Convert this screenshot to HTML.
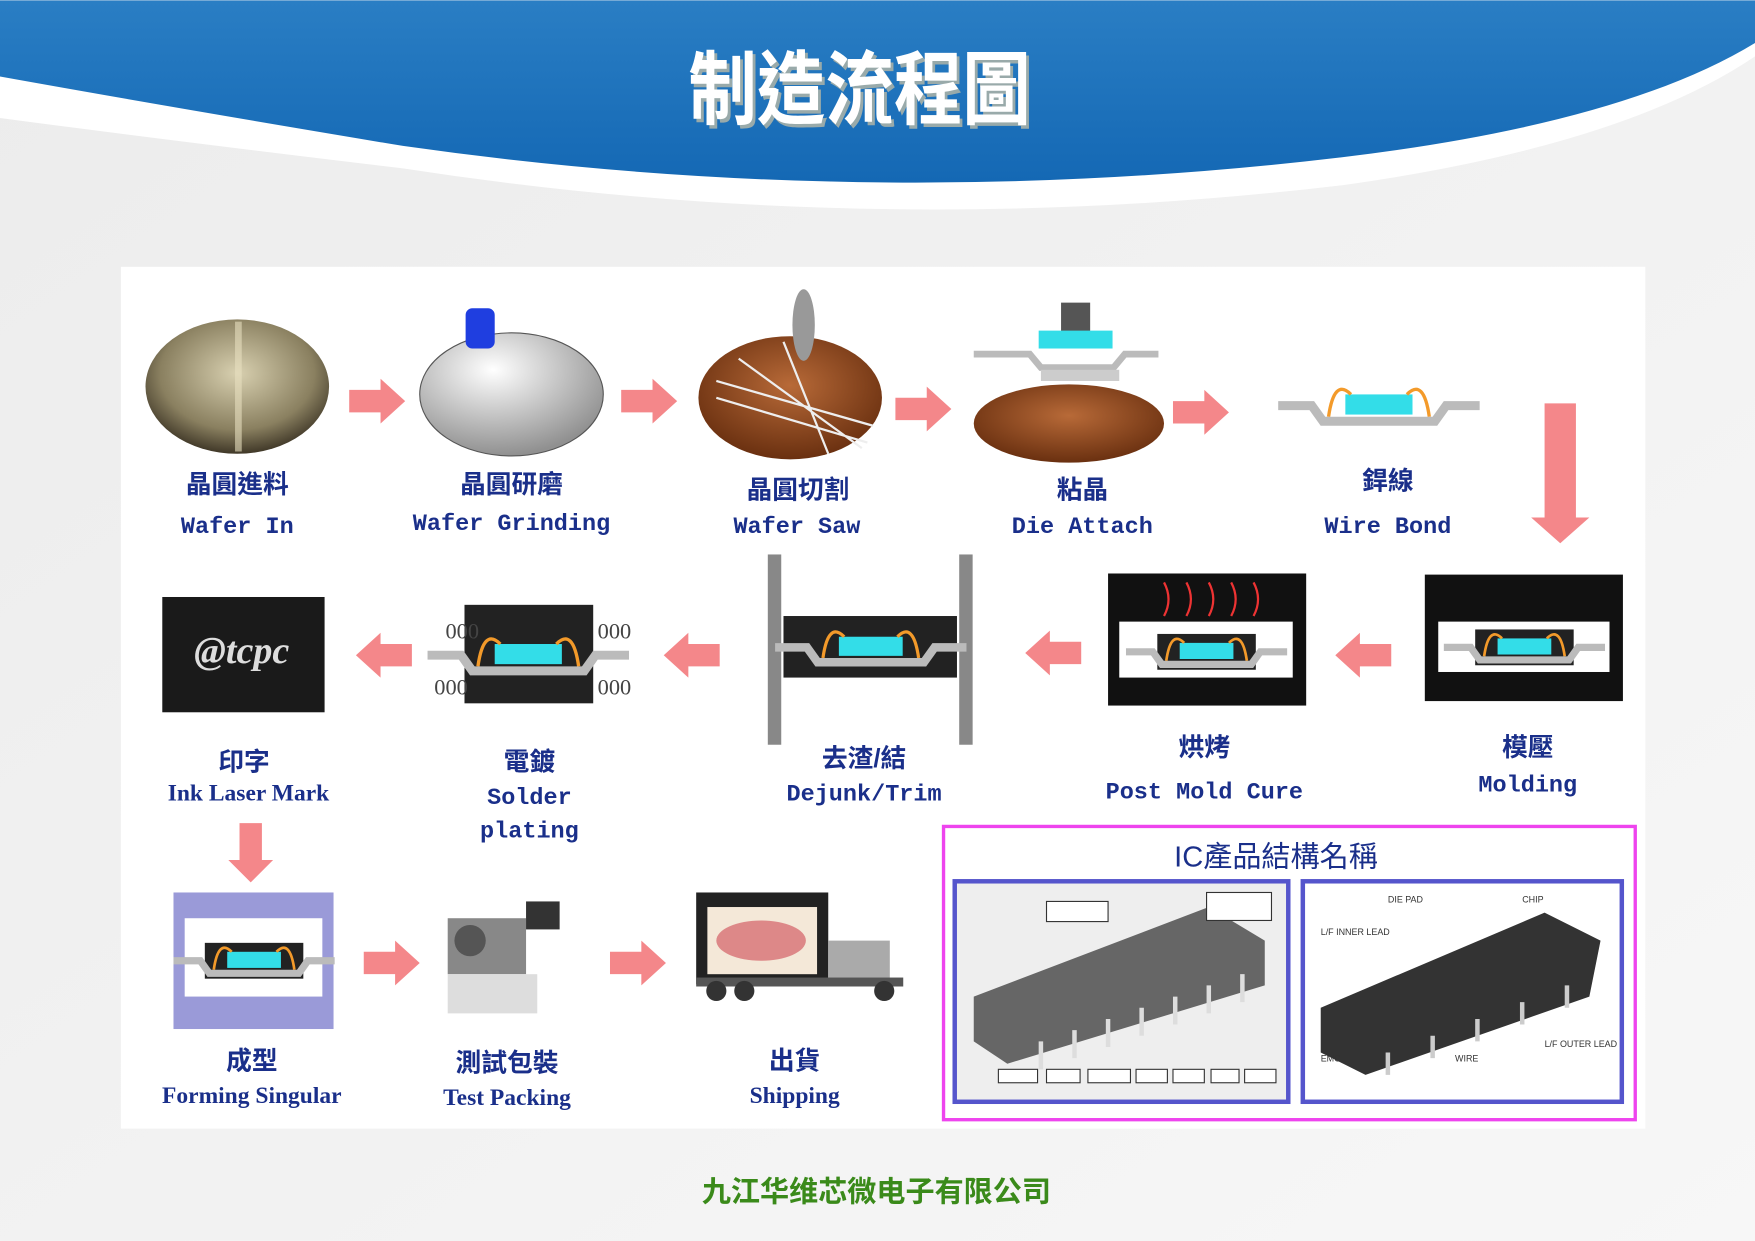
<!DOCTYPE html>
<html><head><meta charset="utf-8"><style>
html,body{margin:0;padding:0;width:1755px;height:1241px;overflow:hidden;background:#f3f3f3}
svg{display:block}
.cj{font-family:"Liberation Sans","Noto Sans CJK TC",sans-serif;font-weight:bold;fill:#1a2f8a}
.en{font-family:"Liberation Mono",monospace;font-weight:bold;fill:#1a2f8a}
</style></head><body>
<svg width="1755" height="1241" viewBox="0 0 1568 1108" xmlns="http://www.w3.org/2000/svg">
<defs>
<linearGradient id="bg" x1="0" y1="0" x2="1" y2="1"><stop offset="0" stop-color="#ececec"/><stop offset="1" stop-color="#f7f7f7"/></linearGradient>
<linearGradient id="bl" x1="0" y1="0" x2="0" y2="1"><stop offset="0" stop-color="#2a7ec4"/><stop offset="1" stop-color="#1468b4"/></linearGradient>
<radialGradient id="wf" cx="0.5" cy="0.4" r="0.6"><stop offset="0" stop-color="#d8d0b0"/><stop offset="0.7" stop-color="#8a8060"/><stop offset="1" stop-color="#403828"/></radialGradient>
<radialGradient id="gr" cx="0.4" cy="0.3" r="0.7"><stop offset="0" stop-color="#ffffff"/><stop offset="1" stop-color="#909090"/></radialGradient>
<radialGradient id="br" cx="0.5" cy="0.4" r="0.6"><stop offset="0" stop-color="#b86a38"/><stop offset="1" stop-color="#6a3010"/></radialGradient>
<g id="ar"><polygon points="0,-10 28,-10 28,-20 50,0 28,20 28,10 0,10" fill="#f4878a"/></g>
<g id="al"><polygon points="0,-10 -28,-10 -28,-20 -50,0 -28,20 -28,10 0,10" fill="#f4878a"/></g>
<g id="chip"><rect x="-30" y="-10" width="60" height="18" fill="#33dde8"/><path d="M-45,10 Q-40,-25 -25,-10 M45,10 Q40,-25 25,-10" stroke="#f39a2a" stroke-width="3" fill="none"/><path d="M-90,0 L-60,0 L-50,14 L50,14 L60,0 L90,0" stroke="#bbb" stroke-width="8" fill="none"/></g>
</defs>
<rect width="1568" height="1108" fill="url(#bg)"/>
<path d="M0,0 H1568 V50 Q1450,130 1200,165 Q780,215 360,150 Q150,125 0,105 Z" fill="#fff"/>
<path d="M0,0 H1568 V38 Q1450,110 1200,140 Q780,190 360,130 Q150,95 0,68 Z" fill="url(#bl)"/>
<g transform="translate(768,105) scale(0.85,1)">
<text x="3" y="3" text-anchor="middle" font-family="'Liberation Sans','Noto Sans CJK TC',sans-serif" font-weight="bold" font-size="72" fill="#9aa">制造流程圖</text>
<text x="0" y="0" text-anchor="middle" font-family="'Liberation Sans','Noto Sans CJK TC',sans-serif" font-weight="bold" font-size="72" fill="#fff">制造流程圖</text>
</g>
<rect x="108" y="238" width="1362" height="770" fill="#fff"/>
<!-- row1 -->
<ellipse cx="212" cy="345" rx="82" ry="60" fill="url(#wf)"/><rect x="210" y="287" width="6" height="116" fill="#e8e0c0" opacity="0.6"/>
<use href="#ar" x="312" y="358"/>
<ellipse cx="457" cy="352" rx="82" ry="55" fill="url(#gr)" stroke="#555"/><rect x="416" y="275" width="26" height="36" rx="6" fill="#1f3ee0"/>
<use href="#ar" x="555" y="358"/>
<ellipse cx="706" cy="355" rx="82" ry="55" fill="url(#br)"/><path d="M640,340 L780,380 M640,355 L775,395 M660,320 L770,400 M700,305 L740,405" stroke="#eee" stroke-width="2"/><ellipse cx="718" cy="290" rx="10" ry="32" fill="#999"/>
<use href="#ar" x="800" y="365"/>
<ellipse cx="955" cy="378" rx="85" ry="35" fill="url(#br)"/><rect x="948" y="270" width="26" height="26" fill="#555"/><rect x="928" y="295" width="66" height="16" fill="#33dde8"/><path d="M870,316 H920 L930,328 H995 L1005,316 H1035" stroke="#bbb" stroke-width="6" fill="none"/><rect x="930" y="330" width="70" height="10" fill="#ccc"/>
<use href="#ar" x="1048" y="368"/>
<g transform="translate(1232,362)"><use href="#chip"/></g>
<path d="M1380,360 H1408 V462 H1420 L1394,485 L1368,462 H1380 Z" fill="#f4878a"/>
<g font-size="23" class="cj" text-anchor="middle">
<text x="212" y="440" class="cj">晶圓進料</text><text x="457" y="440" class="cj">晶圓研磨</text><text x="713" y="445" class="cj">晶圓切割</text><text x="967" y="445" class="cj">粘晶</text><text x="1240" y="437" class="cj">銲線</text>
</g>
<g font-size="21" text-anchor="middle">
<text x="212" y="476" class="en">Wafer In</text><text x="457" y="473" class="en">Wafer Grinding</text><text x="712" y="476" class="en">Wafer Saw</text><text x="967" y="476" class="en">Die Attach</text><text x="1240" y="476" class="en">Wire Bond</text>
</g>
<!-- row2 -->
<rect x="1273" y="513" width="177" height="113" fill="#111"/><rect x="1285" y="555" width="153" height="45" fill="#fff"/><g transform="translate(1362,578) scale(0.8)"><rect x="-55" y="-20" width="110" height="40" fill="#222"/><use href="#chip"/></g>
<use href="#al" x="1243" y="585"/>
<rect x="990" y="512" width="177" height="118" fill="#111"/><rect x="1000" y="555" width="155" height="50" fill="#fff"/><path d="M1040,520 q8,15 0,30 M1060,520 q8,15 0,30 M1080,520 q8,15 0,30 M1100,520 q8,15 0,30 M1120,520 q8,15 0,30" stroke="#e33" stroke-width="2" fill="none"/><g transform="translate(1078,582) scale(0.8)"><rect x="-55" y="-20" width="110" height="40" fill="#222"/><use href="#chip"/></g>
<use href="#al" x="966" y="583"/>
<rect x="686" y="495" width="12" height="170" fill="#888"/><rect x="857" y="495" width="12" height="170" fill="#888"/><rect x="700" y="550" width="155" height="55" fill="#222"/><g transform="translate(778,578) scale(0.95)"><use href="#chip"/></g>
<use href="#al" x="643" y="585"/>
<rect x="415" y="540" width="115" height="88" fill="#222"/><g transform="translate(472,585)"><use href="#chip"/></g><text x="398" y="570" font-size="20" fill="#444">000</text><text x="534" y="570" font-size="20" fill="#444">000</text><text x="388" y="620" font-size="20" fill="#444">000</text><text x="534" y="620" font-size="20" fill="#444">000</text>
<use href="#al" x="368" y="585"/>
<rect x="145" y="533" width="145" height="103" fill="#1a1a1a"/><text x="216" y="592" text-anchor="middle" font-family="Liberation Serif" font-style="italic" font-weight="bold" font-size="34" fill="#ddd">@tcpc</text>
<text x="1365" y="675" text-anchor="middle" font-size="23" class="cj">模壓</text><text x="1365" y="707" text-anchor="middle" font-size="21" class="en">Molding</text>
<text x="1076" y="675" text-anchor="middle" font-size="23" class="cj">烘烤</text><text x="1076" y="713" text-anchor="middle" font-size="21" class="en">Post Mold Cure</text>
<text x="772" y="685" text-anchor="middle" font-size="23" class="cj">去渣/結</text><text x="772" y="715" text-anchor="middle" font-size="21" class="en">Dejunk/Trim</text>
<text x="473" y="688" text-anchor="middle" font-size="23" class="cj">電鍍</text><text x="473" y="718" text-anchor="middle" font-size="21" class="en">Solder</text><text x="473" y="748" text-anchor="middle" font-size="21" class="en">plating</text>
<text x="218" y="688" text-anchor="middle" font-size="23" class="cj">印字</text><text x="222" y="715" text-anchor="middle" font-size="21" font-family="Liberation Serif" font-weight="bold" fill="#1a2f8a">Ink Laser Mark</text>
<!-- row3 -->
<path d="M214,735 H234 V768 H244 L224,788 L204,768 H214 Z" fill="#f4878a"/>
<rect x="155" y="797" width="143" height="122" fill="#9a9ad8"/><rect x="165" y="820" width="123" height="70" fill="#fff"/><g transform="translate(227,858) scale(0.8)"><rect x="-55" y="-20" width="110" height="40" fill="#222"/><use href="#chip"/></g>
<use href="#ar" x="325" y="860"/>
<g fill="#888"><rect x="400" y="820" width="70" height="50"/><circle cx="420" cy="840" r="14" fill="#555"/><rect x="470" y="805" width="30" height="25" fill="#333"/><rect x="400" y="870" width="80" height="35" fill="#ddd"/></g>
<use href="#ar" x="545" y="860"/>
<rect x="622" y="797" width="118" height="82" fill="#222"/><rect x="632" y="810" width="98" height="60" fill="#f4e8d8"/><ellipse cx="680" cy="840" rx="40" ry="18" fill="#d88"/><rect x="740" y="840" width="55" height="40" fill="#aaa"/><rect x="622" y="873" width="185" height="8" fill="#555"/><circle cx="640" cy="885" r="9" fill="#333"/><circle cx="665" cy="885" r="9" fill="#333"/><circle cx="790" cy="885" r="9" fill="#333"/>
<text x="225" y="955" text-anchor="middle" font-size="23" class="cj">成型</text><text x="225" y="985" text-anchor="middle" font-size="21" font-family="Liberation Serif" font-weight="bold" fill="#1a2f8a">Forming Singular</text>
<text x="453" y="957" text-anchor="middle" font-size="23" class="cj">測試包裝</text><text x="453" y="987" text-anchor="middle" font-size="21" font-family="Liberation Serif" font-weight="bold" fill="#1a2f8a">Test Packing</text>
<text x="710" y="955" text-anchor="middle" font-size="23" class="cj">出貨</text><text x="710" y="985" text-anchor="middle" font-size="21" font-family="Liberation Serif" font-weight="bold" fill="#1a2f8a">Shipping</text>
<!-- IC box -->
<rect x="843" y="738" width="618" height="262" fill="#fff" stroke="#ee44ee" stroke-width="3"/>
<text x="1140" y="774" text-anchor="middle" font-size="26" font-family="'Liberation Sans','Noto Sans CJK TC',sans-serif" fill="#1a2f8a">IC產品結構名稱</text>
<rect x="853" y="787" width="298" height="197" fill="#eee" stroke="#5555cc" stroke-width="4"/>
<rect x="1164" y="787" width="285" height="197" fill="#fff" stroke="#5555cc" stroke-width="4"/>
<path d="M870,890 L1080,810 L1130,840 L1130,880 L900,950 L870,930 Z" fill="#666"/>
<g stroke="#ddd" stroke-width="4"><path d="M930,930 v25 M960,920 v25 M990,910 v25 M1020,900 v25 M1050,890 v25 M1080,880 v25 M1110,870 v25"/></g>
<g fill="#fff" stroke="#333"><rect x="935" y="805" width="55" height="18"/><rect x="1078" y="797" width="58" height="25"/><rect x="892" y="955" width="35" height="12"/><rect x="935" y="955" width="30" height="12"/><rect x="972" y="955" width="38" height="12"/><rect x="1015" y="955" width="28" height="12"/><rect x="1048" y="955" width="28" height="12"/><rect x="1082" y="955" width="25" height="12"/><rect x="1112" y="955" width="28" height="12"/></g>
<path d="M1180,900 L1380,815 L1430,840 L1420,890 L1220,960 L1180,940 Z" fill="#333"/>
<g stroke="#ccc" stroke-width="4"><path d="M1240,940 v20 M1280,925 v20 M1320,910 v20 M1360,895 v20 M1400,880 v20"/></g>
<g font-size="8" fill="#333" font-family="Liberation Sans"><text x="1240" y="806">DIE PAD</text><text x="1360" y="806">CHIP</text><text x="1180" y="835">L/F INNER LEAD</text><text x="1380" y="935">L/F OUTER LEAD</text><text x="1180" y="948">EMC</text><text x="1300" y="948">WIRE</text></g>
<text x="783" y="1073" text-anchor="middle" font-size="26" font-family="'Liberation Sans','Noto Sans CJK SC',sans-serif" font-weight="bold" fill="#3a8a1a">九江华维芯微电子有限公司</text>
</svg>
</body></html>
